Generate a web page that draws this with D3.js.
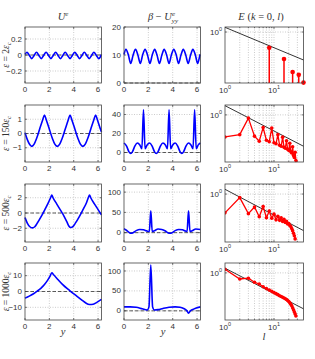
<!DOCTYPE html>
<html lang="en">
<head>
<meta charset="utf-8">
<title>Zonal jets: U, beta - Uyy, E(k=0,l)</title>
<script src="https://cdn.jsdelivr.net/npm/d3@7"></script>
<style>
  body { margin: 0; background: #fff; }
  text { font-family: "Liberation Sans", Arial, sans-serif; fill: #333; }
  .tex { font-family: "Liberation Serif", "DejaVu Serif", serif; }
</style>
</head>
<body>
<script>
// ---------- data ----------
var rowNums = ["2", "150", "500", "1000"];

// row 1, eps = 2 eps_c (8 wavelengths)
var r1X = [0, 0.16, 0.36, 0.55, 0.75, 0.945, 1.14, 1.34, 1.53, 1.73, 1.93, 2.13, 2.32, 2.52, 2.71, 2.91,
           3.11, 3.30, 3.50, 3.70, 3.89, 4.09, 4.29, 4.48, 4.68, 4.87, 5.07, 5.27, 5.47, 5.66, 5.86, 6.05, 6.25, 6.28];
var r1U = [0.007, 0.035, -0.005, -0.045, -0.005, 0.035, -0.005, -0.045, -0.005, 0.035, -0.005, -0.045, -0.005,
           0.035, -0.005, -0.045, -0.005, 0.035, -0.005, -0.045, -0.005, 0.035, -0.005, -0.045, -0.005,
           0.035, -0.005, -0.045, -0.005, 0.035, -0.005, -0.045, -0.005, 0.007];
var r1B = [10.2, 12, 10, 7, 10, 12, 10, 7, 10, 12, 10, 7, 10, 12, 10, 7, 10, 12, 10, 7, 10,
           12, 10, 7, 10, 12, 10, 7, 10, 12, 10, 7, 10, 10.2];

// row 2, eps = 150 eps_c
var r2UX = [0, 0.2, 0.35, 0.55, 0.75, 0.95, 1.2, 1.45, 1.6, 1.75, 2.0, 2.25, 2.45, 2.65, 2.85, 3.05,
            3.3, 3.55, 3.7, 3.85, 4.1, 4.35, 4.55, 4.75, 4.95, 5.15, 5.4, 5.65, 5.8, 5.95, 6.2, 6.28];
var r2U = [0.05, -0.45, -0.72, -0.9, -0.75, -0.35, 0.3, 0.95, 1.3, 0.95, 0.3, -0.35, -0.75, -0.9, -0.75, -0.35,
           0.3, 0.95, 1.3, 0.95, 0.3, -0.35, -0.75, -0.9, -0.75, -0.35, 0.3, 0.95, 1.3, 0.95, 0.3, 0.1];
var r2BX = [0, 0.2, 0.4, 0.55, 0.7, 0.9, 1.1, 1.3, 1.47, 1.6, 1.73, 1.9, 2.1, 2.3, 2.5, 2.65, 2.8, 3.0, 3.2,
            3.4, 3.57, 3.7, 3.83, 4.0, 4.2, 4.4, 4.6, 4.75, 4.9, 5.1, 5.3, 5.5, 5.67, 5.8, 5.93, 6.1, 6.28];
var r2B = [10, 7, 1, -1, 1, 7, 10, 8, 4, 45, 4, 8, 10, 7, 1, -1, 1, 7, 10,
           8, 4, 45, 4, 8, 10, 7, 1, -1, 1, 7, 10, 8, 4, 45, 4, 8, 10];

// row 3, eps = 500 eps_c
var r3UX = [0, 0.2, 0.4, 0.6, 0.8, 1.0, 1.3, 1.6, 1.9, 2.1, 2.2, 2.3, 2.6, 2.9, 3.2, 3.45, 3.6, 3.77,
            3.95, 4.15, 4.45, 4.75, 5.05, 5.2, 5.3, 5.4, 5.7, 6.0, 6.28];
var r3U = [-0.6, -1.35, -1.8, -1.95, -1.8, -1.35, -0.55, 0.35, 1.3, 2.0, 2.35, 2.0, 1.2, 0.4, -0.4, -1.2, -1.7, -1.9,
           -1.75, -1.3, -0.5, 0.4, 1.35, 2.0, 2.35, 2.0, 1.2, 0.45, -0.25];
var r3BX = [0, 0.2, 0.45, 0.6, 0.75, 1.0, 1.3, 1.6, 1.9, 2.08, 2.2, 2.32, 2.5, 2.8, 3.1, 3.4, 3.6, 3.77,
            3.95, 4.2, 4.5, 4.8, 5.05, 5.18, 5.3, 5.42, 5.6, 5.9, 6.28];
var r3B = [10, 6, 0, -1.5, 0, 5, 8, 7, 4, 3, 54, 3, 5, 9, 8, 4, 0, -1.5,
           0, 5, 8, 7, 4, 3, 54, 3, 5, 9, 8];

// row 4, eps = 1000 eps_c
var r4UX = [0, 0.35, 0.7, 1.0, 1.3, 1.6, 1.85, 2.05, 2.2, 2.35, 2.7, 3.1, 3.5, 3.9, 4.3, 4.7, 5.0, 5.3, 5.6, 5.9, 6.28];
var r4U = [-4.2, -2.9, -1.4, 0.2, 2.0, 4.4, 7.0, 9.5, 11.8, 10.6, 7.6, 4.3, 1.6, -0.8, -3.2, -5.6, -7.3, -8.2, -8.0, -6.9, -5.0];
var r4BX = [0, 0.5, 1.0, 1.5, 1.9, 2.05, 2.2, 2.35, 2.5, 2.8, 3.2, 3.7, 4.2, 4.6, 4.9, 5.15, 5.3, 5.45, 5.7, 6.0, 6.28];
var r4B = [10, 10, 9, 5, 2, 10, 115, 10, 2, 3, 6, 9, 10, 9, 6, 1, -6, 0, 4, 8, 10];

// spectra E(k=0,l), stored as log10 E
var stemL = [8, 16, 24, 32, 40];
var stemLogE = [-3.85, -6.6, -9.8, -10.5, -12.4];
var logE2 = [-4.36, -3.9, -0.64, -4.2, -5.2, -2.5, -5.0, -5.3, -2.6, -5.5, -5.7, -3.9, -6.0, -6.2,
             -4.4, -6.4, -6.6, -5.1, -6.8, -7.0, -5.6, -7.3, -7.5, -6.3, -8.0, -8.4, -7.4, -9.0];
var logE3 = [-3.65, -0.7, -3.8, -2.5, -4.4, -2.4, -4.6, -3.3, -4.7, -3.9, -5.0, -4.3, -5.1, -4.6,
             -5.3, -4.9, -5.5, -5.3, -5.8, -5.7, -6.1, -6.3, -6.7, -7.1, -7.6, -8.1, -8.7];
var logE4 = [0.72, -1.2, -1.05, -1.85, -2.2, -2.75, -3.1, -3.4, -3.65, -3.9, -4.1, -4.3, -4.5, -4.65,
             -4.8, -4.95, -5.1, -5.25, -5.45, -5.65, -5.9, -6.2, -6.5, -6.9, -7.3, -7.7, -8.1, -8.5];
// reference slope line, end points at l = 1 and l = 40
var refL = [1, 40];
var refLogE = [[1.15, -6.86], [1.82, -6.19], [0.92, -7.09], [0.92, -7.09]];

// axes
var uDom = [[-0.35, 0.35], [-2, 2], [-3.8, 3.8], [-18, 18]];
var uTicks = [[-0.2, 0, 0.2], [-1, 0, 1], [-2, 0, 2], [-10, 0, 10]];
var bDom = [[0, 20], [-10, 50], [-23, 120], [-23, 120]];
var bTicks = [[0, 10, 20], [0, 20, 40], [0, 50, 100], [0, 50, 100]];
var eDom = [[-12.5, 1.23], [-9.3, 1.95], [-9.3, 1.95], [-9.3, 1.95]];
var xTicks = [0, 2, 4, 6];
var lMinor = [2, 3, 4, 5, 6, 7, 8, 9, 20, 30];

var uX = [r1X, r2UX, r3UX, r4UX], uV = [r1U, r2U, r3U, r4U];
var bX = [r1X, r2BX, r3BX, r4BX], bV = [r1B, r2B, r3B, r4B];
var spectra = [null, logE2, logE3, logE4];

// ---------- layout ----------
var W = 315, H = 359;
var colX = [[25, 101.5], [124, 200.5], [225, 303.5]];
var rowY = [[27, 83], [105, 162], [184, 242], [263, 320]];

var svg = d3.select("body").append("svg").attr("width", W).attr("height", H);
var defs = svg.append("defs");

function grid(g, x1, y1, x2, y2) {
  g.append("line").attr("x1", x1).attr("y1", y1).attr("x2", x2).attr("y2", y2)
    .attr("stroke", "#aaa").attr("stroke-width", 0.6).attr("stroke-dasharray", "1,1.5");
}
function tk(g, x1, y1, x2, y2) {
  g.append("line").attr("x1", x1).attr("y1", y1).attr("x2", x2).attr("y2", y2)
    .attr("stroke", "#444").attr("stroke-width", 0.7);
}
function box(g, xr, yr) {
  g.append("rect").attr("x", xr[0]).attr("y", yr[0])
    .attr("width", xr[1] - xr[0]).attr("height", yr[1] - yr[0])
    .attr("fill", "none").attr("stroke", "#444").attr("stroke-width", 0.8);
}
function pow10Label(g, x, y, anchor, p) {
  var t = g.append("text").attr("x", x).attr("y", y).attr("text-anchor", anchor).attr("font-size", 8);
  t.append("tspan").text("10");
  t.append("tspan").attr("dy", -4).attr("font-size", 5.5).text(p);
  return t;
}

function linPanel(r, c, xs, vs, dom, yt) {
  var xr = colX[c], yr = rowY[r];
  var x = d3.scaleLinear().domain([0, 2 * Math.PI]).range(xr);
  var y = d3.scaleLinear().domain(dom).range([yr[1], yr[0]]);
  var g = svg.append("g");

  xTicks.forEach(function(t) {
    if (t > 0) grid(g, x(t), yr[0], x(t), yr[1]);
    tk(g, x(t), yr[1], x(t), yr[1] - 2);
    tk(g, x(t), yr[0], x(t), yr[0] + 2);
    g.append("text").attr("x", x(t)).attr("y", yr[1] + 9)
      .attr("text-anchor", "middle").attr("font-size", 8).text(t);
  });
  yt.forEach(function(t) {
    var py = y(t);
    if (Math.abs(py - yr[0]) > 1 && Math.abs(py - yr[1]) > 1) grid(g, xr[0], py, xr[1], py);
    tk(g, xr[0], py, xr[0] + 2, py);
    tk(g, xr[1], py, xr[1] - 2, py);
    g.append("text").attr("x", xr[0] - 3).attr("y", py).attr("dy", "0.32em")
      .attr("text-anchor", "end").attr("font-size", 8).text(d3.format("~g")(t).replace("\u2212", "\u2212"));
  });

  g.append("line").attr("x1", xr[0]).attr("x2", xr[1]).attr("y1", y(0)).attr("y2", y(0))
    .attr("stroke", "#333").attr("stroke-width", 0.8).attr("stroke-dasharray", "3.5,2");

  var line = d3.line().x(function(d, i) { return x(xs[i]); })
    .y(function(d) { return y(d); }).curve(d3.curveMonotoneX);
  g.append("path").datum(vs).attr("d", line)
    .attr("fill", "none").attr("stroke", "#0000ff").attr("stroke-width", 1.6)
    .attr("stroke-linejoin", "round");
  box(g, xr, yr);
}

function logPanel(r) {
  var xr = colX[2], yr = rowY[r];
  var x = d3.scaleLog().domain([1, 40]).range(xr);
  var y = d3.scaleLog().domain([Math.pow(10, eDom[r][0]), Math.pow(10, eDom[r][1])]).range([yr[1], yr[0]]);
  var g = svg.append("g");
  var cid = "clip" + r;
  defs.append("clipPath").attr("id", cid).append("rect")
    .attr("x", xr[0]).attr("y", yr[0] - 3).attr("width", xr[1] - xr[0] + 3).attr("height", yr[1] - yr[0] + 6);

  lMinor.concat([10]).forEach(function(t) {
    grid(g, x(t), yr[0], x(t), yr[1]);
    var len = t === 10 ? 2 : 1.2;
    tk(g, x(t), yr[1], x(t), yr[1] - len);
    tk(g, x(t), yr[0], x(t), yr[0] + len);
  });
  grid(g, xr[0], y(1), xr[1], y(1));
  tk(g, xr[0], y(1), xr[0] + 2, y(1));
  tk(g, xr[1], y(1), xr[1] - 2, y(1));

  pow10Label(g, x(1), yr[1] + 10, "middle", "0");
  pow10Label(g, x(10), yr[1] + 10, "middle", "1");
  pow10Label(g, xr[0] - 3, y(1) + 3, "end", "0");

  var pc = g.append("g").attr("clip-path", "url(#" + cid + ")");
  pc.append("line")
    .attr("x1", x(refL[0])).attr("y1", y(Math.pow(10, refLogE[r][0])))
    .attr("x2", x(refL[1])).attr("y2", y(Math.pow(10, refLogE[r][1])))
    .attr("stroke", "#000").attr("stroke-width", 0.8);

  if (r === 0) {
    stemL.forEach(function(l, i) {
      var py = y(Math.pow(10, stemLogE[i]));
      pc.append("line").attr("x1", x(l)).attr("x2", x(l)).attr("y1", yr[1]).attr("y2", py)
        .attr("stroke", "#ff0000").attr("stroke-width", 1.5);
      pc.append("circle").attr("cx", x(l)).attr("cy", py).attr("r", 2.3).attr("fill", "#ff0000");
    });
  } else {
    var data = spectra[r].map(function(v, i) { return [i + 1, Math.pow(10, v)]; });
    pc.append("path").datum(data)
      .attr("d", d3.line().x(function(d) { return x(d[0]); }).y(function(d) { return y(d[1]); }))
      .attr("fill", "none").attr("stroke", "#ff0000").attr("stroke-width", 1.3);
    pc.selectAll("circle").data(data).enter().append("circle")
      .attr("cx", function(d) { return x(d[0]); }).attr("cy", function(d) { return y(d[1]); })
      .attr("r", 1.8).attr("fill", "#ff0000");
  }
  box(g, xr, yr);
}

for (var r = 0; r < 4; r++) {
  linPanel(r, 0, uX[r], uV[r], uDom[r], uTicks[r]);
  linPanel(r, 1, bX[r], bV[r], bDom[r], bTicks[r]);
  logPanel(r);

  // row label, rotated
  var mid = (rowY[r][0] + rowY[r][1]) / 2;
  var rl = svg.append("text").attr("class", "tex").attr("font-size", 9.5)
    .attr("text-anchor", "middle")
    .attr("transform", "translate(9," + mid + ") rotate(-90)");
  rl.append("tspan").attr("font-style", "italic").text("\u03b5");
  rl.append("tspan").text(" = " + rowNums[r]);
  rl.append("tspan").attr("font-style", "italic").text("\u03b5");
  rl.append("tspan").attr("font-style", "italic").attr("font-size", 6.5).attr("dy", 2).text("c");
}

// column titles
var t1 = svg.append("text").attr("class", "tex").attr("x", 63).attr("y", 20)
  .attr("text-anchor", "middle").attr("font-size", 10.5);
t1.append("tspan").attr("font-style", "italic").text("U");
t1.append("tspan").attr("font-style", "italic").attr("font-size", 7).attr("dy", -4).text("e");

var t2 = svg.append("text").attr("class", "tex").attr("x", 163).attr("y", 20)
  .attr("text-anchor", "middle").attr("font-size", 10.5);
t2.append("tspan").attr("font-style", "italic").text("\u03b2");
t2.append("tspan").text(" \u2212 ");
t2.append("tspan").attr("font-style", "italic").text("U");
t2.append("tspan").attr("font-style", "italic").attr("font-size", 7).attr("dy", -4).text("e");
t2.append("tspan").attr("font-style", "italic").attr("font-size", 7).attr("dx", -3.2).attr("dy", 7).text("yy");

var t3 = svg.append("text").attr("class", "tex").attr("x", 261).attr("y", 20)
  .attr("text-anchor", "middle").attr("font-size", 10.5);
t3.append("tspan").attr("font-style", "italic").text("E");
t3.append("tspan").text(" (");
t3.append("tspan").attr("font-style", "italic").text("k");
t3.append("tspan").text(" = 0, ");
t3.append("tspan").attr("font-style", "italic").text("l");
t3.append("tspan").text(")");

// x axis labels
svg.append("text").attr("class", "tex").attr("x", 63).attr("y", 335).attr("text-anchor", "middle")
  .attr("font-size", 10.5).attr("font-style", "italic").text("y");
svg.append("text").attr("class", "tex").attr("x", 163).attr("y", 335).attr("text-anchor", "middle")
  .attr("font-size", 10.5).attr("font-style", "italic").text("y");
svg.append("text").attr("class", "tex").attr("x", 264).attr("y", 340).attr("text-anchor", "middle")
  .attr("font-size", 10.5).attr("font-style", "italic").text("l");
</script>
</body>
</html>
